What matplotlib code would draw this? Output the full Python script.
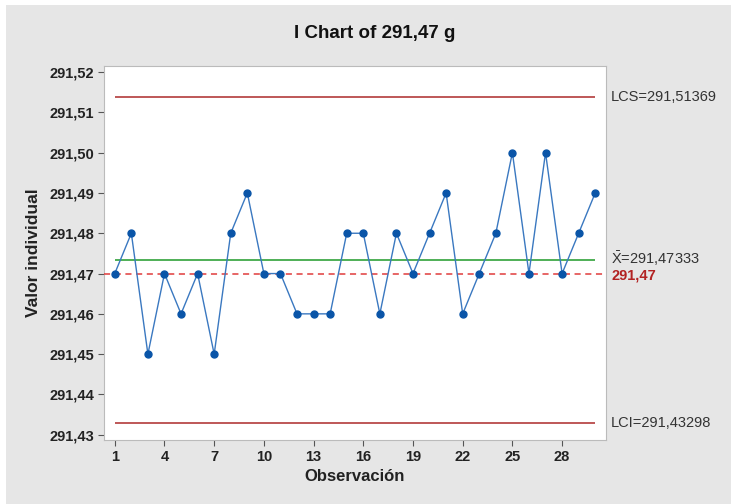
import numpy as np
import matplotlib.pyplot as plt
from matplotlib.patches import Rectangle
from matplotlib.ticker import FuncFormatter

plt.rcParams['font.family'] = ['Liberation Sans', 'DejaVu Sans']
plt.rcParams['mathtext.fontset'] = 'custom'
plt.rcParams['mathtext.rm'] = 'Liberation Sans'

# observations of the I chart
obs = np.arange(1, 31)
values = [291.47, 291.48, 291.45, 291.47, 291.46, 291.47, 291.45, 291.48, 291.49, 291.47,
          291.47, 291.46, 291.46, 291.46, 291.48, 291.48, 291.46, 291.48, 291.47, 291.48,
          291.49, 291.46, 291.47, 291.48, 291.50, 291.47, 291.50, 291.47, 291.48, 291.49]

lcs = 291.51369
lci = 291.43298
xbar = 291.47333
target = 291.47

fig = plt.figure(figsize=(7.31, 5.04), dpi=100, facecolor='white')
# grey panel behind the chart (thin white strip on left and top)
fig.patches.append(Rectangle((6/731, 0), 1, 1 - 5/504, transform=fig.transFigure,
                             facecolor='#e6e6e6', edgecolor='none', zorder=-10))

ax = fig.add_axes([104/731, 64/504, 502/731, 374/504])
ax.set_facecolor('white')

ax.plot(obs, values, color='#3a78c0', lw=1, marker='o', ms=5,
        mfc='#0a55a8', mec='#0a55a8', zorder=4)

ax.hlines([lcs, lci], 1, 30, color='#b94a4a', lw=1.3, zorder=2)
ax.hlines(xbar, 1, 30, color='#1e9a28', lw=1.1, zorder=2)
ax.hlines(target, 0.35, 30.65, color='#e03c3c', lw=1.1, linestyles=(0, (4, 3)), zorder=3)

ax.set_xlim(0.35, 30.65)
ax.set_ylim(291.4287, 291.5215)
ax.set_xticks(np.arange(1, 29, 3))
ax.set_yticks(np.round(np.arange(291.43, 291.525, 0.01), 2))
ax.yaxis.set_major_formatter(FuncFormatter(lambda v, p: f'{v:.2f}'.replace('.', ',')))
ax.tick_params(direction='out', length=4, width=0.8, color='#555555',
               labelsize=10.5, labelcolor='#222222', pad=3)
for lab in ax.get_xticklabels() + ax.get_yticklabels():
    lab.set_fontweight('bold')
for s in ax.spines.values():
    s.set_color('#bbbbbb')

tr = ax.get_yaxis_transform()
lab_x = 1.01
ax.text(lab_x, lcs, 'LCS=291,51369', transform=tr, va='center', ha='left',
        fontsize=10.5, color='#333333')
ax.text(lab_x, lci, 'LCI=291,43298', transform=tr, va='center', ha='left',
        fontsize=10.5, color='#333333')
ax.text(lab_x, xbar + 0.0005, r'$\bar{\mathrm{X}}$=291,47333', transform=tr, va='center', ha='left',
        fontsize=10.5, color='#333333')
ax.text(lab_x, target - 0.0004, '291,47', transform=tr, va='center', ha='left',
        fontsize=10.5, color='#b22222', fontweight='bold')

ax.set_xlabel('Observación', fontsize=12, fontweight='bold', color='#222222', labelpad=4)
ax.set_ylabel('Valor individual', fontsize=12.5, fontweight='bold', color='#222222', labelpad=6)
fig.text(375/731, 1 - 34/504, 'I Chart of 291,47 g', ha='center', va='center',
         fontsize=13.5, fontweight='bold', color='#111111')

fig.savefig('out.png', dpi=100, facecolor=fig.get_facecolor())
